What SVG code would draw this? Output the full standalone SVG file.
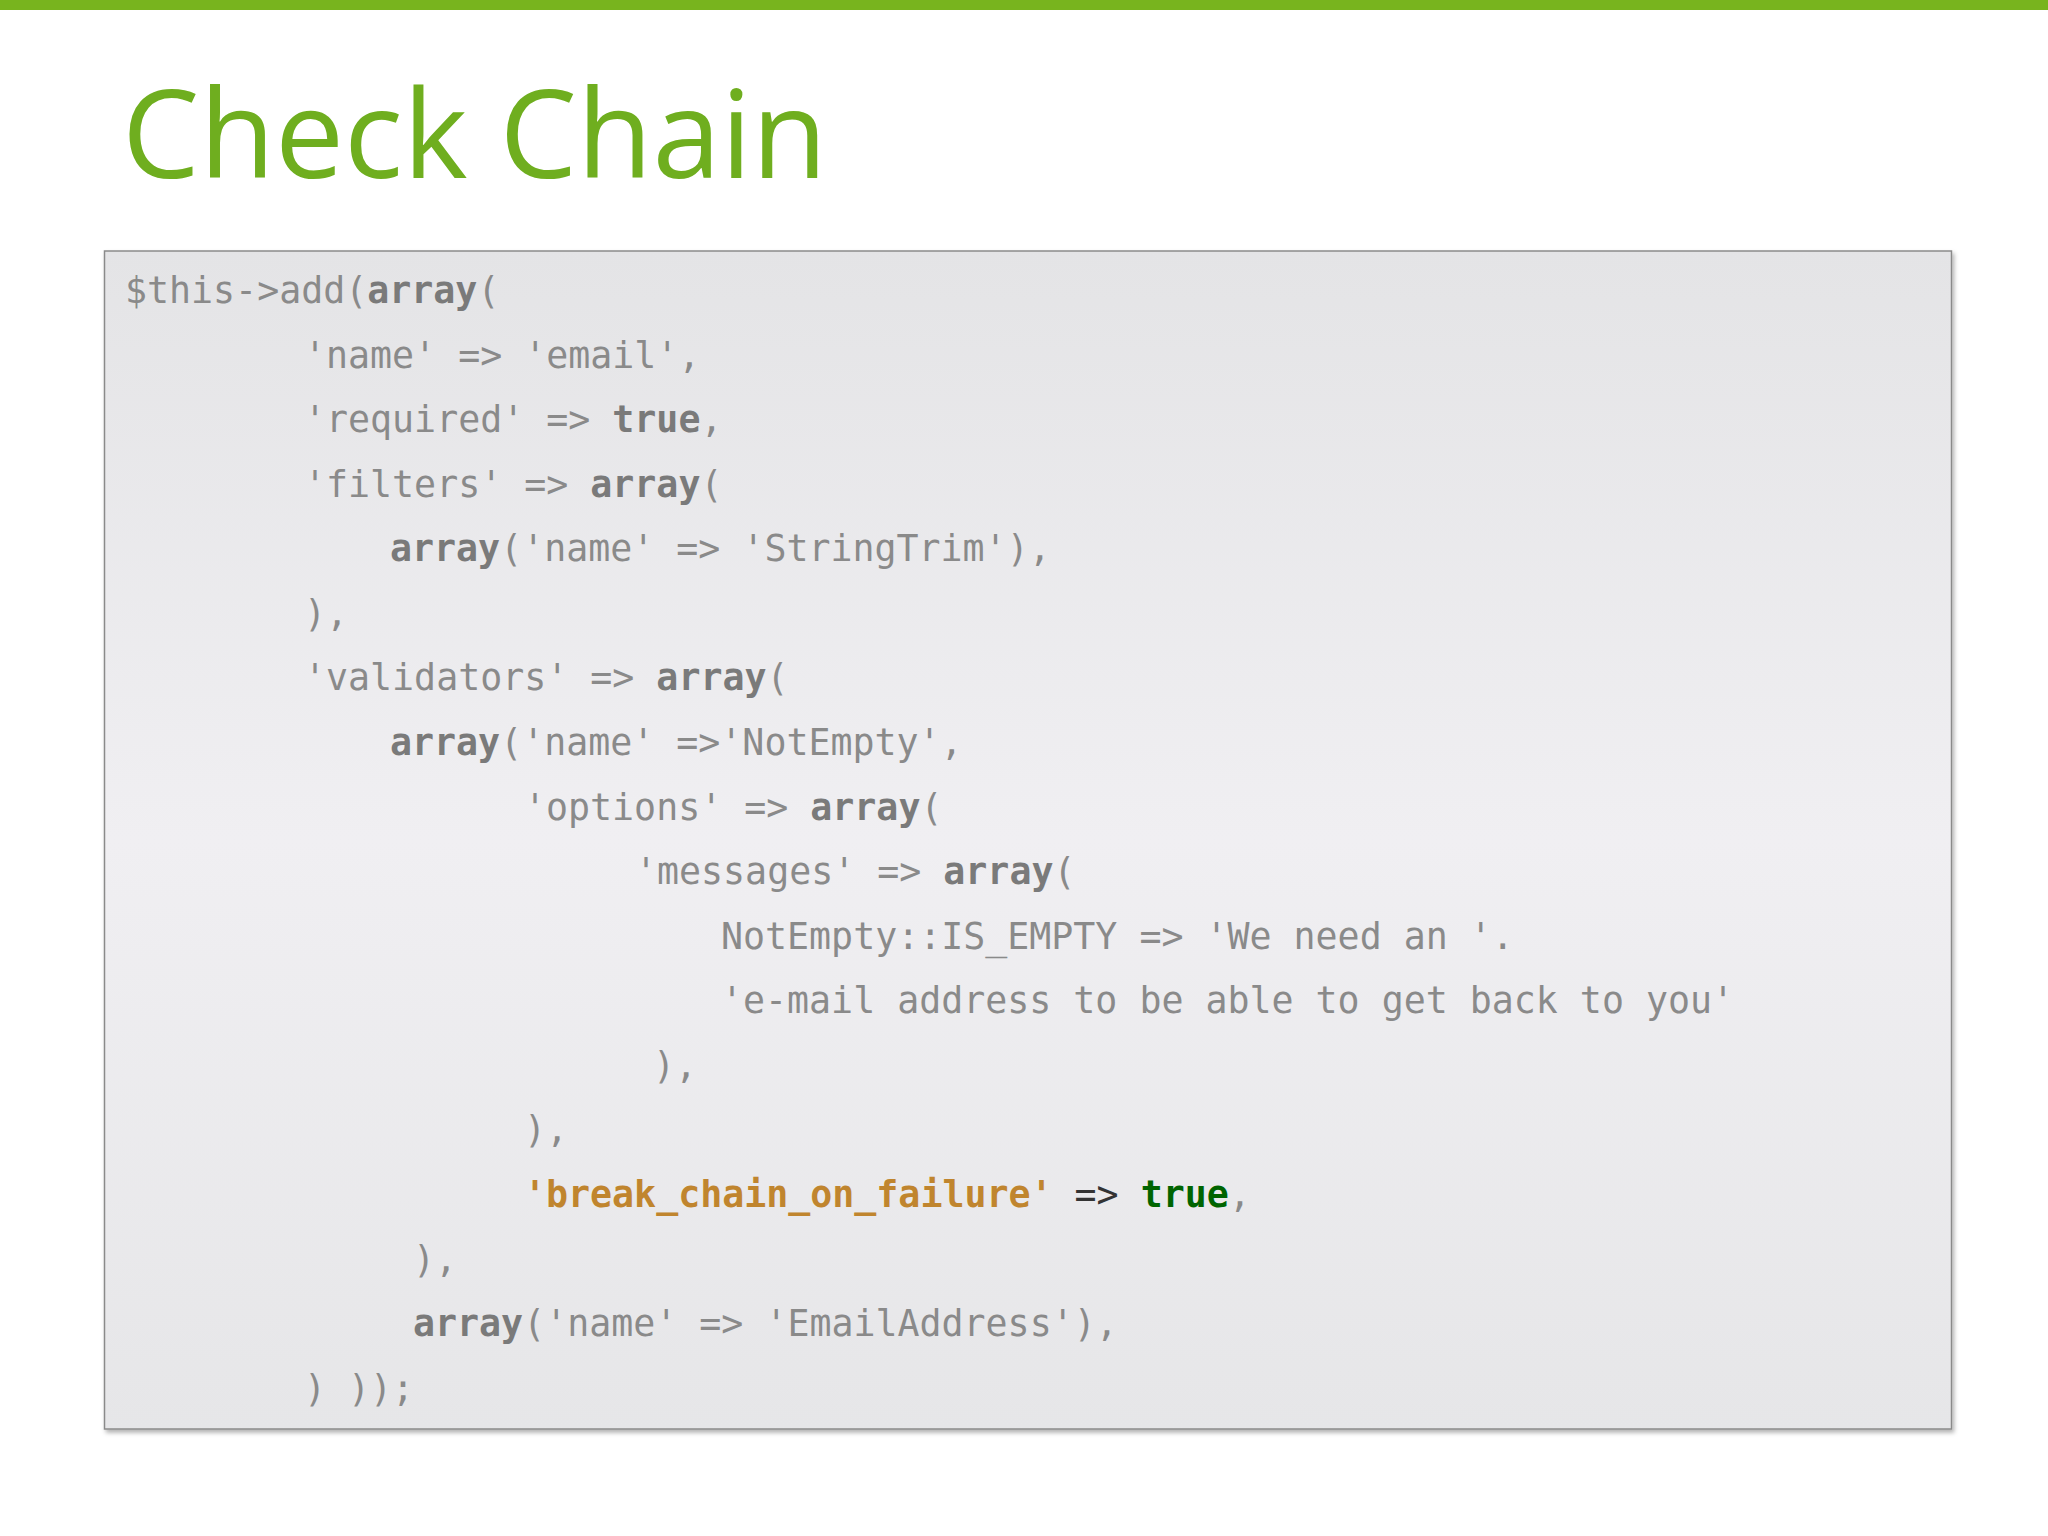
<svg xmlns="http://www.w3.org/2000/svg" width="2048" height="1536" viewBox="0 0 2048 1536">
<defs>
<linearGradient id="bg" x1="0" y1="0" x2="0" y2="1">
<stop offset="0" stop-color="#e4e4e6"/><stop offset="0.5" stop-color="#f0eff2"/><stop offset="1" stop-color="#e6e6e8"/>
</linearGradient>
<filter id="sh"><feDropShadow dx="2" dy="3" stdDeviation="2" flood-opacity="0.3"/></filter>
</defs>
<style>
.c{font-family:"DejaVu Sans Mono","Liberation Mono",monospace;font-size:36.6px;fill:#8a8a8a;white-space:pre}
.k{font-weight:bold;fill:#7a7a7a}
.o{font-weight:bold;fill:#c0852e}
.g{font-weight:bold;fill:#006400}
</style>
<rect x="0" y="0" width="2048" height="10" fill="#78b41e"/>
<g id="title"><text x="122" y="178" font-family="Open Sans, Noto Sans, sans-serif" font-size="123" fill="#6fae1f">Check Chain</text></g>
<g id="codebox">
<rect x="104.5" y="251" width="1847" height="1178" fill="url(#bg)" stroke="#8a8a8a" stroke-width="1.5" filter="url(#sh)"/>
<text class="c" x="125" y="303">$this-&gt;add(<tspan class="k">array</tspan>(</text>
<text class="c" x="304" y="368">'name' =&gt; 'email',</text>
<text class="c" x="304" y="432">'required' =&gt; <tspan class="k">true</tspan>,</text>
<text class="c" x="304" y="497">'filters' =&gt; <tspan class="k">array</tspan>(</text>
<text class="c" x="390" y="561"><tspan class="k">array</tspan>('name' =&gt; 'StringTrim'),</text>
<text class="c" x="304" y="626">),</text>
<text class="c" x="304" y="690">'validators' =&gt; <tspan class="k">array</tspan>(</text>
<text class="c" x="390" y="755"><tspan class="k">array</tspan>('name' =&gt;'NotEmpty',</text>
<text class="c" x="524" y="820">'options' =&gt; <tspan class="k">array</tspan>(</text>
<text class="c" x="635" y="884">'messages' =&gt; <tspan class="k">array</tspan>(</text>
<text class="c" x="721" y="949">NotEmpty::IS_EMPTY =&gt; 'We need an '.</text>
<text class="c" x="721" y="1013">'e-mail address to be able to get back to you'</text>
<text class="c" x="653" y="1078">),</text>
<text class="c" x="524" y="1142">),</text>
<text class="c" x="524" y="1207"><tspan class="o">'break_chain_on_failure'</tspan> <tspan fill="#333">=&gt;</tspan> <tspan class="g">true</tspan>,</text>
<text class="c" x="413" y="1272">),</text>
<text class="c" x="413" y="1336"><tspan class="k">array</tspan>('name' =&gt; 'EmailAddress'),</text>
<text class="c" x="304" y="1401">) ));</text>
</g>
</svg>
